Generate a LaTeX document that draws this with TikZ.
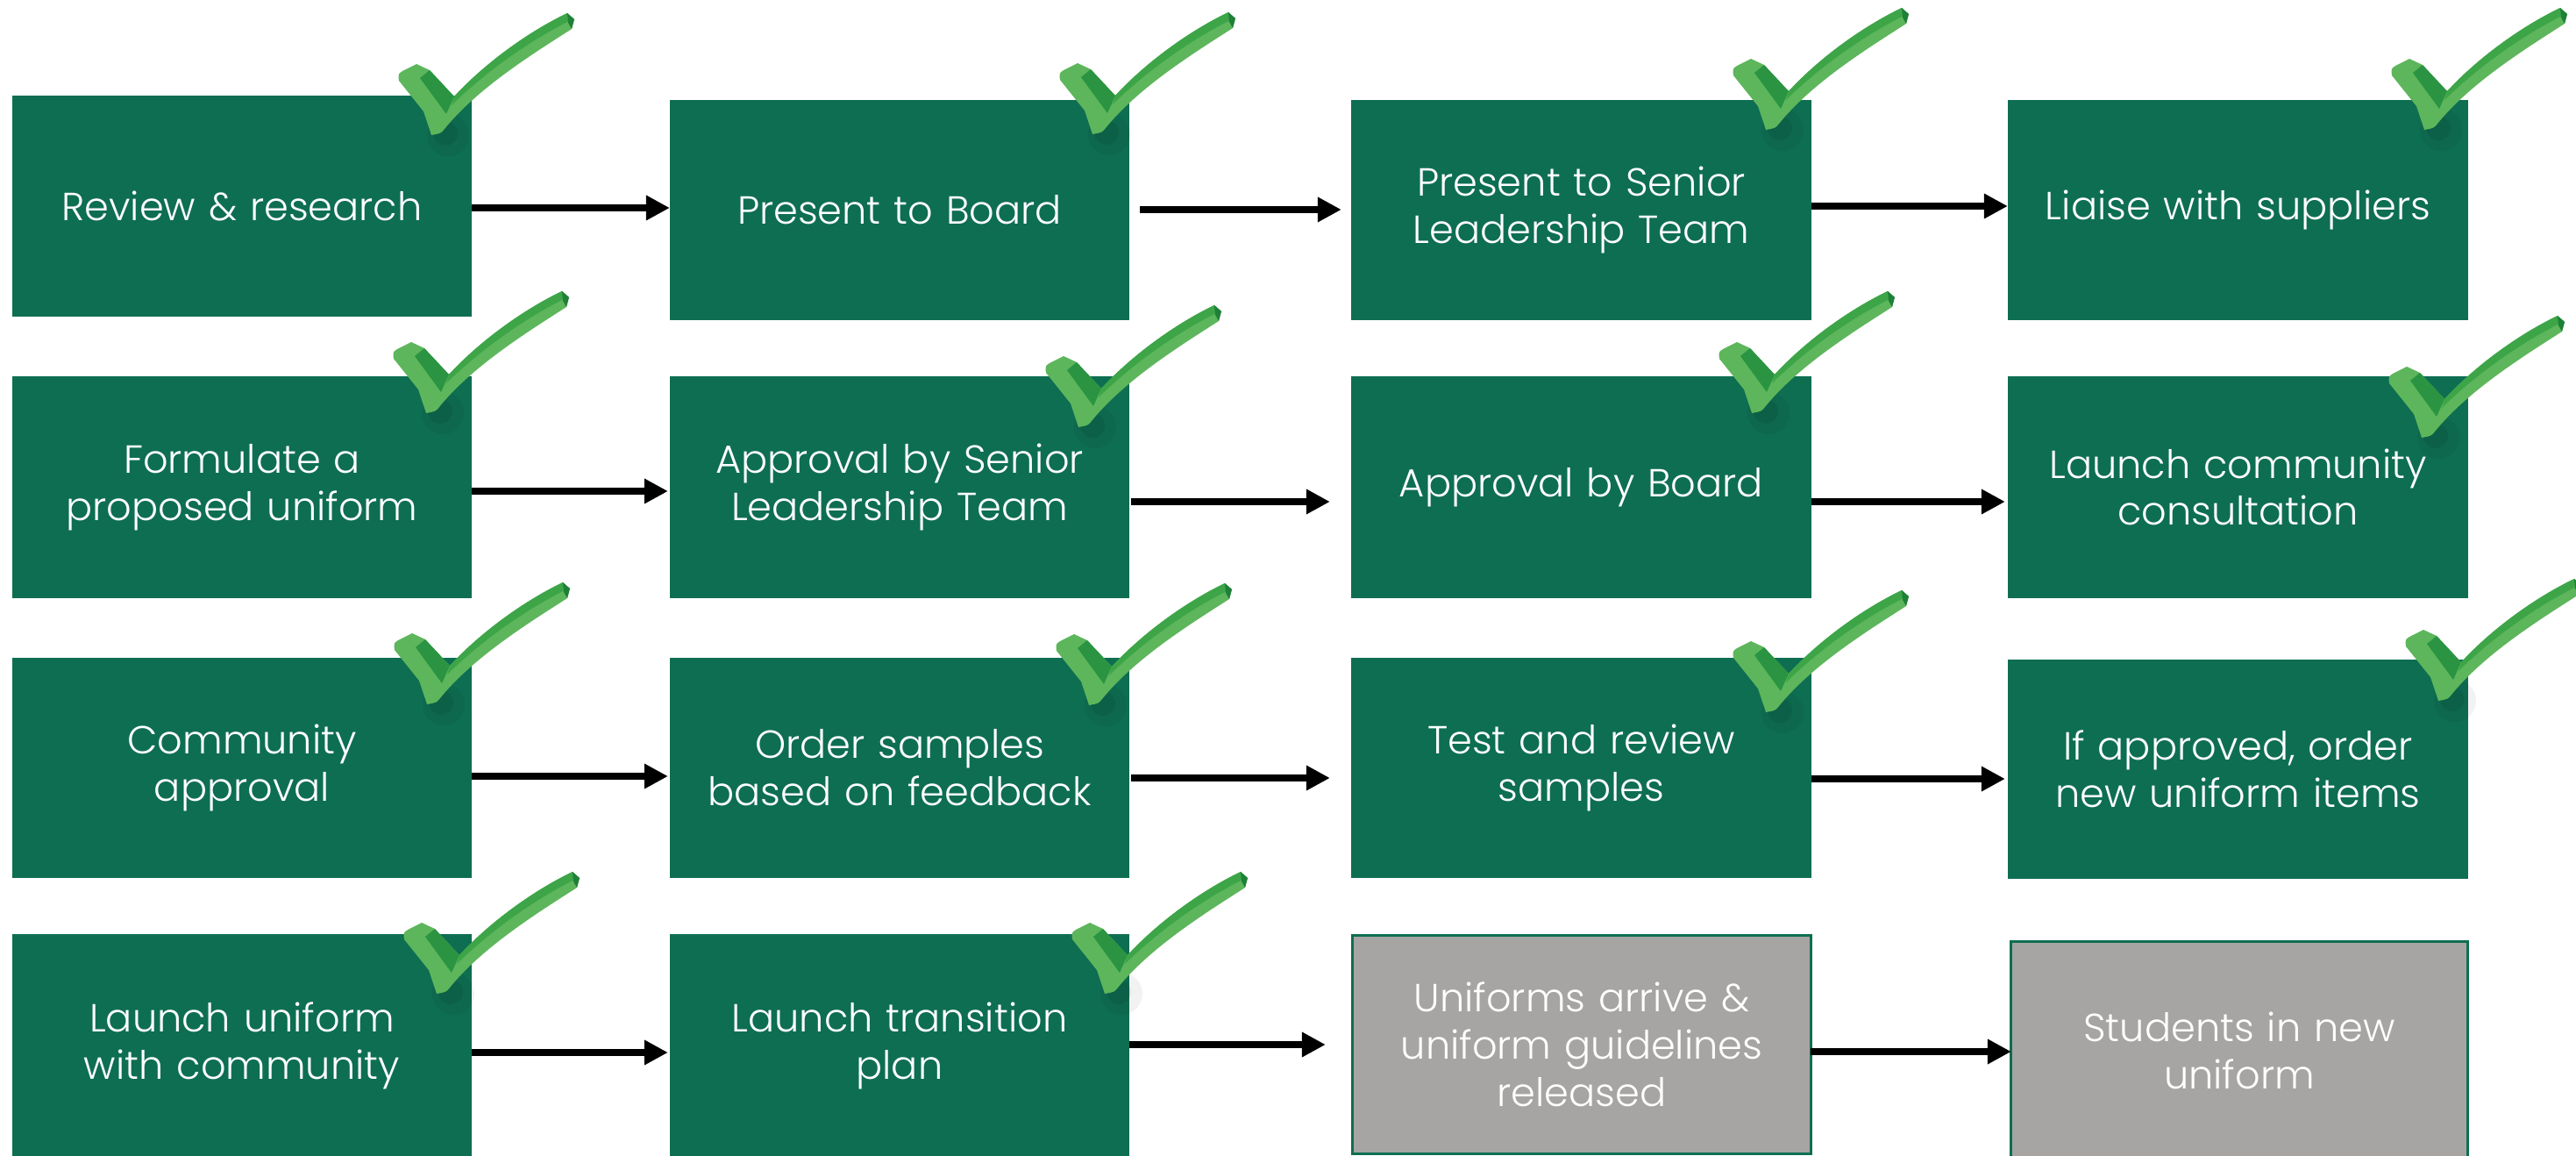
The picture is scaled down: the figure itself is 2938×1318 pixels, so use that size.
\documentclass[tikz,border=0pt]{standalone}
\usepackage{fontspec}
\setmainfont{Poppins}[UprightFont=* Light]
\usetikzlibrary{arrows.meta}
\definecolor{boxgreen}{HTML}{0E6E52}
\definecolor{boxgray}{HTML}{A6A5A3}
\definecolor{ticklight}{HTML}{5DB65B}
\definecolor{tickmid}{HTML}{3DA548}
\definecolor{tickdark}{HTML}{2A9442}
\definecolor{tickdeep}{HTML}{1F8038}
\tikzset{
  stepbox/.style={rectangle, fill=boxgreen, draw=none, text=white, align=center,
    text width=5cm, inner sep=0pt, outer sep=0pt,
    font=\fontsize{12.7pt}{15.3pt}\selectfont},
  graybox/.style={stepbox, fill=boxgray, draw=boxgreen, line width=0.03cm},
  arr/.style={line width=0.08cm, -{Triangle[length=0.27cm,width=0.27cm]}},
  tickmark/.pic={
    \fill[black,opacity=0.05] (16,2) circle (24);
    \fill[black,opacity=0.07] (13,0) circle (14);
    \fill[ticklight] (-3,2) -- (-12,-25) -- (-40,-60) .. controls (-41,-68) .. (-34,-72)
      -- (-20,-79) -- (-5,-72) -- (23,-42) .. controls (60,-82) and (110,-117) .. (152,-137)
      -- (160,-130) -- (157,-119) .. controls (115,-92) and (50,-52) .. (12,-5) .. controls (8,0) .. (-3,2) -- cycle;
    \fill[tickdark] (-5,-72) -- (23,-42) -- (14,-22) -- (-16,-63) -- cycle;
    \fill[tickmid] (23,-42) .. controls (60,-82) and (110,-117) .. (152,-137) -- (154,-128)
      .. controls (112,-107) and (62,-73) .. (20,-32) -- cycle;
    \fill[tickdeep] (152,-137) -- (160,-130) -- (157,-119) -- (153,-126) -- cycle;
  }
}
\begin{document}
\begin{tikzpicture}[x=0.01cm, y=-0.01cm]
\useasboundingbox (0,0) rectangle (2938,1318);
% row 1
\node[stepbox, minimum width=5.24cm, minimum height=2.52cm] (r1c1) at (276,235) {Review \& research};
\node[stepbox, minimum width=5.24cm, minimum height=2.51cm] (r1c2) at (1026,239.5) {Present to Board};
\node[stepbox, minimum width=5.25cm, minimum height=2.51cm] (r1c3) at (1803.5,239.5) {Present to Senior\\Leadership Team};
\node[stepbox, minimum width=5.25cm, minimum height=2.51cm] (r1c4) at (2552.5,239.5) {Liaise with suppliers};
% row 2
\node[stepbox, minimum width=5.24cm, minimum height=2.53cm] (r2c1) at (276,555.5) {Formulate a\\proposed uniform};
\node[stepbox, minimum width=5.24cm, minimum height=2.53cm] (r2c2) at (1026,555.5) {Approval by Senior\\Leadership Team};
\node[stepbox, minimum width=5.25cm, minimum height=2.53cm] (r2c3) at (1803.5,555.5) {Approval by Board};
\node[stepbox, minimum width=5.25cm, minimum height=2.53cm] (r2c4) at (2552.5,555.5) {Launch community\\consultation};
% row 3
\node[stepbox, minimum width=5.24cm, minimum height=2.51cm] (r3c1) at (276,875.5) {Community\\approval};
\node[stepbox, minimum width=5.24cm, minimum height=2.51cm] (r3c2) at (1026,875.5) {Order samples\\based on feedback};
\node[stepbox, minimum width=5.25cm, minimum height=2.51cm] (r3c3) at (1803.5,875.5) {Test and review\\samples};
\node[stepbox, minimum width=5.25cm, minimum height=2.50cm] (r3c4) at (2552.5,877) {If approved, order\\new uniform items};
% row 4
\node[stepbox, minimum width=5.24cm, minimum height=2.55cm] (r4c1) at (276,1192.5) {Launch uniform\\with community};
\node[stepbox, minimum width=5.24cm, minimum height=2.55cm] (r4c2) at (1026,1192.5) {Launch transition\\plan};
\node[graybox, minimum width=5.22cm, minimum height=2.48cm] (r4c3) at (1804,1191) {Uniforms arrive \&\\uniform guidelines\\released};
\node[graybox, minimum width=5.20cm, minimum height=2.48cm] (r4c4) at (2554,1198) {Students in new\\uniform};
% arrow levels
\coordinate (y11) at (0,237);  \coordinate (y12) at (0,239);  \coordinate (y13) at (0,235);
\coordinate (y21) at (0,560);  \coordinate (y22) at (0,572);  \coordinate (y23) at (0,572);
\coordinate (y31) at (0,885);  \coordinate (y32) at (0,887);  \coordinate (y33) at (0,888);
\coordinate (y41) at (0,1200); \coordinate (y42) at (0,1191); \coordinate (y43) at (0,1199);
% arrows
\draw[arr] (r1c1.east |- y11) -- (r1c2.west |- y11);
\draw[arr, shorten <=0.12cm, shorten >=0.11cm] (r1c2.east |- y12) -- (r1c3.west |- y12);
\draw[arr] (r1c3.east |- y13) -- (r1c4.west |- y13);
\draw[arr, shorten >=0.02cm] (r2c1.east |- y21) -- (r2c2.west |- y21);
\draw[arr, shorten <=0.02cm, shorten >=0.24cm] (r2c2.east |- y22) -- (r2c3.west |- y22);
\draw[arr, shorten >=0.03cm] (r2c3.east |- y23) -- (r2c4.west |- y23);
\draw[arr, shorten >=0.02cm] (r3c1.east |- y31) -- (r3c2.west |- y31);
\draw[arr, shorten <=0.02cm, shorten >=0.24cm] (r3c2.east |- y32) -- (r3c3.west |- y32);
\draw[arr, shorten >=0.03cm] (r3c3.east |- y33) -- (r3c4.west |- y33);
\draw[arr, shorten >=0.02cm] (r4c1.east |- y41) -- (r4c2.west |- y41);
\draw[arr, shorten >=0.31cm] (r4c2.east |- y42) -- (r4c3.west |- y42);
\draw[arr] (r4c3.east |- y43) -- (r4c4.west |- y43);
% ticks
\pic at (495,152) {tickmark};
\pic at (1249,151) {tickmark};
\pic at (2017,146) {tickmark};
\pic at (2768,146) {tickmark};
\pic at (489,469) {tickmark};
\pic at (1233,485) {tickmark};
\pic at (2001,469) {tickmark};
\pic at (2765,497) {tickmark};
\pic at (490,801) {tickmark};
\pic at (1245,802) {tickmark};
\pic at (2017,810) {tickmark};
\pic at (2784,797) {tickmark};
\pic at (501,1131) {tickmark};
\pic at (1263,1131) {tickmark};
\end{tikzpicture}
\end{document}
